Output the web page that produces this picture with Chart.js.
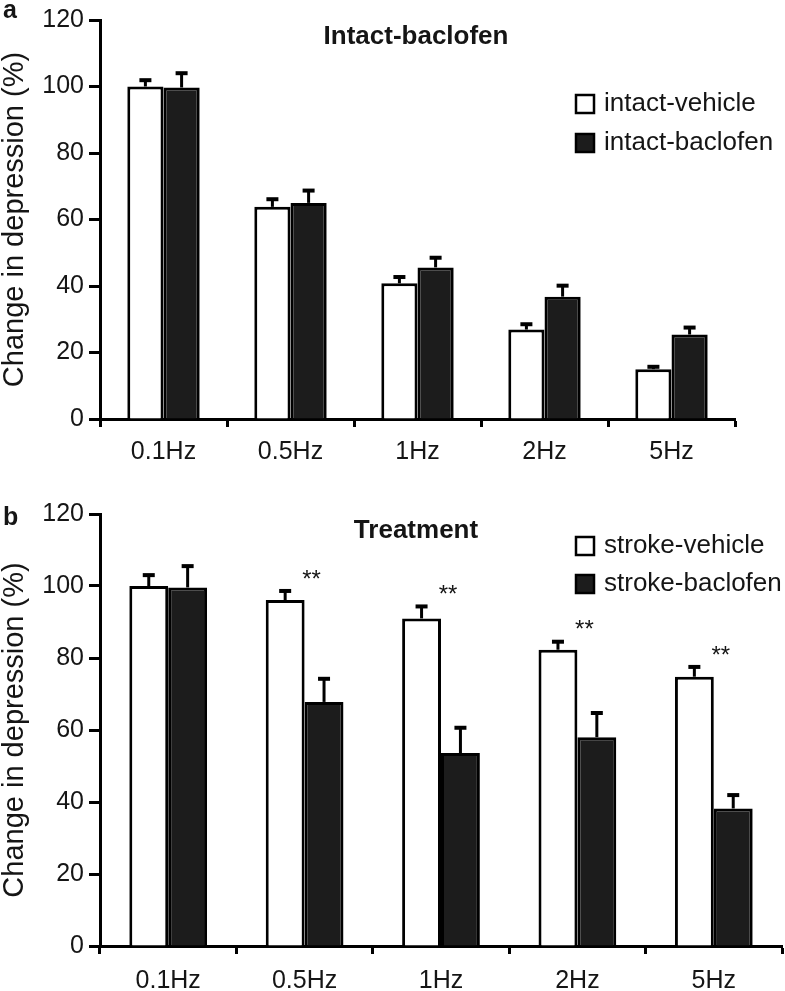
<!DOCTYPE html>
<html>
<head>
<meta charset="utf-8">
<script src="https://cdn.jsdelivr.net/npm/chart.js@4.4.0/dist/chart.umd.min.js"></script>
<style>
  html, body { margin: 0; padding: 0; background: #fff; }
  canvas { position: absolute; left: 0; }
  #chartA { top: 0; }
  #chartB { top: 490px; }
</style>
</head>
<body>
<canvas id="chartA" width="785" height="490"></canvas>
<canvas id="chartB" width="785" height="501"></canvas>
<script>
// frequencies on the x axis, same for both panels
const frequencies = ["0.1Hz", "0.5Hz", "1Hz", "2Hz", "5Hz"];
const yTicks = [0, 20, 40, 60, 80, 100, 120];

// panel a - intact animals
const intactVehicle = [100, 63.8, 40.8, 26.9, 15];
const intactVehicleErr = [2.2, 2.6, 2.2, 1.9, 1];
const intactBaclofen = [99.7, 65, 45.6, 36.8, 25.4];
const intactBaclofenErr = [4.6, 4, 3.2, 3.6, 2.4];

// panel b - stroke animals
const strokeVehicle = [100, 96.1, 91, 82.3, 74.8];
const strokeVehicleErr = [3.3, 2.8, 3.6, 2.5, 3];
const strokeBaclofen = [99.6, 67.8, 53.6, 58, 38.2];
const strokeBaclofenErr = [6.2, 6.7, 7.3, 7, 4];
const strokeSignificance = ["", "**", "**", "**", "**"];

const FONT = "'Liberation Sans', Arial, Helvetica, sans-serif";
const INK = "#151515";

// error bars: stem up from the bar top with a small cap
const errorBars = {
    id: "errorBars",
    afterDatasetsDraw(chart) {
        const ctx = chart.ctx;
        const yScale = chart.scales.y;
        chart.data.datasets.forEach((ds, i) => {
            chart.getDatasetMeta(i).data.forEach((bar, j) => {
                const top = yScale.getPixelForValue(ds.data[j] + ds.errors[j]);
                ctx.save();
                ctx.strokeStyle = "#000";
                ctx.lineWidth = 3;
                ctx.beginPath();
                ctx.moveTo(bar.x, bar.y);
                ctx.lineTo(bar.x, top);
                ctx.stroke();
                ctx.fillStyle = "#000";
                ctx.fillRect(bar.x - 6, top - 1, 12, 4);
                ctx.restore();
            });
        });
    }
};

// panel letter, in-plot title, legend box and significance marks
const decor = {
    id: "decor",
    afterDraw(chart, args, opts) {
        const ctx = chart.ctx;
        const area = chart.chartArea;
        ctx.save();
        ctx.fillStyle = INK;

        // panel letter
        ctx.font = "bold 25px " + FONT;
        ctx.textAlign = "left";
        ctx.textBaseline = "alphabetic";
        ctx.fillText(opts.letter, 3, opts.letterY);

        // title
        ctx.font = "bold 26px " + FONT;
        ctx.textAlign = "center";
        ctx.textBaseline = "middle";
        ctx.fillText(opts.title, opts.titleX, area.top + 17);

        // legend
        ctx.font = "26px " + FONT;
        ctx.textAlign = "left";
        chart.data.datasets.forEach((ds, i) => {
            const cy = area.top + opts.legendY + i * opts.legendGap;
            ctx.fillStyle = ds.backgroundColor;
            ctx.fillRect(opts.legendX, cy - 9, 18, 18);
            ctx.strokeStyle = "#000";
            ctx.lineWidth = 2.5;
            ctx.strokeRect(opts.legendX, cy - 9, 18, 18);
            ctx.fillStyle = INK;
            ctx.fillText(ds.label, opts.legendX + 28, cy);
        });

        // significance stars
        if (opts.marks) {
            const yScale = chart.scales.y;
            const first = chart.getDatasetMeta(0).data;
            ctx.font = "24px " + FONT;
            ctx.textAlign = "center";
            ctx.textBaseline = "middle";
            opts.marks.forEach((m, j) => {
                if (!m) return;
                let top = Infinity;
                chart.data.datasets.forEach((ds) => {
                    top = Math.min(top, yScale.getPixelForValue(ds.data[j] + ds.errors[j]));
                });
                const x = first[j].x + first[j].width / 2 + 7;
                ctx.fillText(m, x, top - 10);
            });
        }
        ctx.restore();
    }
};

function makeChart(id, datasets, panel) {
    return new Chart(document.getElementById(id), {
        type: "bar",
        data: { labels: frequencies, datasets: datasets },
        plugins: [errorBars, decor],
        options: {
            responsive: false,
            animation: false,
            devicePixelRatio: 1,
            layout: { padding: { left: 0, right: panel.right, top: panel.top, bottom: 0 } },
            plugins: {
                legend: { display: false },
                tooltip: { enabled: false },
                decor: panel
            },
            scales: {
                x: {
                    offset: true,
                    afterFit(scale) { scale.height = panel.xHeight; },
                    border: { color: "#000", width: 3 },
                    grid: { offset: true, drawOnChartArea: false, tickLength: 8, tickWidth: 3, tickColor: "#000" },
                    ticks: { color: INK, font: { family: FONT, size: 25 }, padding: panel.xPad, maxRotation: 0 }
                },
                y: {
                    min: 0,
                    max: 120,
                    afterBuildTicks(scale) { scale.ticks = yTicks.map((v) => ({ value: v })); },
                    afterFit(scale) { scale.width = 100; },
                    border: { color: "#000", width: 3 },
                    grid: { drawOnChartArea: false, tickLength: 11, tickWidth: 3, tickColor: "#000" },
                    ticks: { color: INK, font: { family: FONT, size: 25 }, padding: 5 },
                    title: {
                        display: true,
                        text: "Change in depression (%)",
                        color: INK,
                        font: { family: FONT, size: 29 },
                        padding: { top: -2, bottom: 0 }
                    }
                }
            }
        }
    });
}

function barSet(label, data, errors, fill) {
    return {
        label: label,
        data: data,
        errors: errors,
        backgroundColor: fill,
        borderColor: "#000",
        borderWidth: 3,
        categoryPercentage: 0.57,
        barPercentage: 1
    };
}

makeChart("chartA", [
    barSet("intact-vehicle", intactVehicle, intactVehicleErr, "#ffffff"),
    barSet("intact-baclofen", intactBaclofen, intactBaclofenErr, "#1c1c1c")
], {
    letter: "a", letterY: 18, title: "Intact-baclofen", titleX: 416,
    legendX: 576, legendY: 84, legendGap: 39,
    top: 17, right: 50, xHeight: 71, xPad: 10
});

makeChart("chartB", [
    barSet("stroke-vehicle", strokeVehicle, strokeVehicleErr, "#ffffff"),
    barSet("stroke-baclofen", strokeBaclofen, strokeBaclofenErr, "#1c1c1c")
], {
    letter: "b", letterY: 35, title: "Treatment", titleX: 416,
    legendX: 576, legendY: 32, legendGap: 38,
    marks: strokeSignificance,
    top: 24, right: 3, xHeight: 45, xPad: 12
});
</script>
</body>
</html>
